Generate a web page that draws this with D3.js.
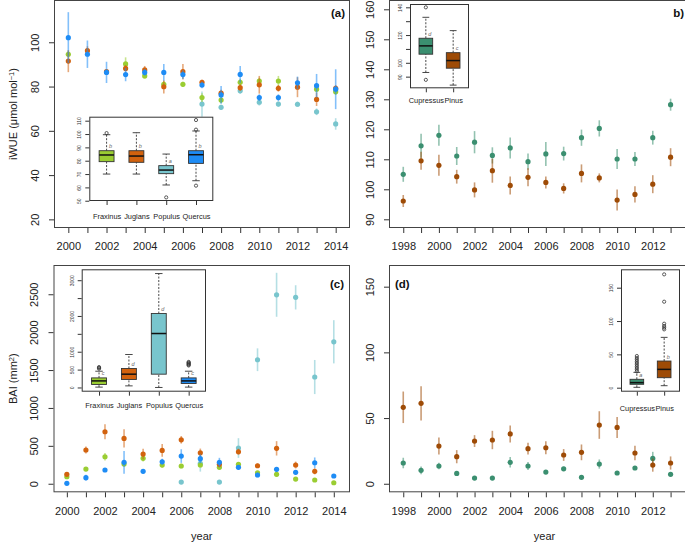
<!DOCTYPE html>
<html><head><meta charset="utf-8">
<script src="https://cdn.jsdelivr.net/npm/d3@7/dist/d3.min.js"></script>
<style>body{margin:0;background:#fff}svg{display:block;font-family:"Liberation Sans",Arial,sans-serif}</style>
</head><body><svg id="chart" width="685" height="543"></svg>
<script>
// ---------- DATA ----------
const yearsA = [2000,2001,2002,2003,2004,2005,2006,2007,2008,2009,2010,2011,2012,2013,2014];
const yearsB = [1998,1999,2000,2001,2002,2003,2004,2005,2006,2007,2008,2009,2010,2011,2012,2013];
const broadleaf = ["Fraxinus","Juglans","Populus","Quercus"];
const conifer = ["Cupressus","Pinus"];

// panel (a) iWUE
const fraxIWUE   = [94.6,null,null,90.2,84.8,81.0,81.0,75.0,73.9,81.9,82.5,82.5,null,78.8,77.7];
const fraxIWUEse = [1.5,null,null,3.0,1.2,1.5,1.2,2.0,1.5,1.5,1.5,2.3,null,1.5,1.5];
const juglIWUE   = [91.5,96.2,86.7,88.2,87.5,79.9,86.7,81.9,77.0,79.5,80.8,79.2,79.7,74.2,79.2];
const juglIWUEse = [5.0,2.0,1.0,1.5,1.8,3.0,3.5,1.2,1.5,1.5,4.0,1.5,4.5,3.0,1.5];
const popIWUE    = [null,null,null,null,null,null,55.1,72.1,70.6,78.1,72.9,72.1,72.0,68.6,63.1];
const popIWUEse  = [null,null,null,null,null,null,2.0,5.7,1.2,1.5,1.5,1.2,1.2,1.5,2.6];
const querIWUE   = [102.1,94.6,86.4,85.4,86.4,86.4,85.4,80.7,76.2,85.5,75.0,75.0,81.7,80.4,78.8];
const querIWUEse = [11.5,6.2,4.8,3.0,1.5,3.8,2.0,1.5,4.0,3.8,1.5,1.5,2.8,5.3,9.0];

// panel (b) iWUE conifers
const cupIWUE   = [105.0,114.5,118.0,111.1,115.7,111.3,113.8,109.2,111.8,111.9,117.2,120.3,110.1,110.1,117.2,128.2];
const cupIWUEse = [2.5,4.0,3.5,3.0,3.7,2.7,3.5,2.7,4.0,2.3,2.7,2.7,3.3,2.3,2.3,2.0];
const pinIWUE   = [96.1,109.5,108.0,104.2,99.8,106.2,101.3,104.0,102.3,100.3,105.3,103.8,96.4,98.3,101.7,110.7];
const pinIWUEse = [2.0,3.0,3.5,2.3,2.5,4.0,3.0,3.0,2.0,1.7,3.0,1.5,3.5,2.7,3.0,3.0];

// panel (c) BAI
const fraxBAI   = [92,194,356,260,335,247,234,247,216,256,145,124,62,49,13];
const fraxBAIse = [20,20,50,30,40,40,30,30,30,30,20,30,20,15,15];
const juglBAI   = [124,445,686,598,392,440,580,409,256,422,237,467,247,164,null];
const juglBAIse = [25,45,100,120,70,85,50,55,40,40,30,95,45,40,null];
const popBAI    = [null,null,null,null,null,null,22,270,22,471,1636,2493,2459,1408,1873];
const popBAIse  = [null,null,null,null,null,null,15,110,15,130,150,290,160,225,285];
const querBAI   = [5,80,181,282,164,290,365,330,282,216,115,190,150,277,102];
const querBAIse = [15,40,20,150,30,40,90,60,60,30,30,30,30,70,20];

// panel (d) BAI conifers
const cupBAI   = [15.8,10.2,13.5,7.9,4.3,4.3,16.3,13.5,8.9,11.4,4.9,15.0,8.2,12.0,19.3,7.2];
const cupBAIse = [4,3,2.5,1.5,1,1,4,3,1.5,1.5,1,3.5,1.5,1.5,5,1.5];
const pinBAI   = [58.2,61.2,28.7,20.6,32.5,33.3,37.9,26.7,27.4,21.9,23.9,44.7,42.9,23.4,14.2,15.8];
const pinBAIse = [12,13,6.5,5,4.5,7,6.5,4.5,5,4.5,6,10.5,8,5.5,5,5];

// inset boxplots: [lower whisker, Q1, median, Q3, upper whisker]
const boxIWUEbroad = [[70,79.3,84.3,87.5,99.5],[70,78.8,83.5,87.5,101],[61.8,70.3,73,76.3,85],[65,78,84.5,87.5,102.3]];
const outIWUEbroad = [[100.7],[],[52.5],[110.5,103.3,61.3]];
const letIWUEbroad = ["b","b","a","b"];
const boxIWUEcon = [[93,106.2,112.2,117.7,132.8],[83.9,96.1,101.6,107.3,123.2]];
const outIWUEcon = [[140,87.7],[]];
const letIWUEcon = ["d","c"];
const boxBAIbroad = [[10,84,184,268,455],[45,224,372,531,922],[0,372,1509,2068,3186],[10,112,184,268,455]];
const outBAIbroad = [[525,550,570],[],[],[615,635,655,675,695,715]];
const letBAIbroad = ["c","d","d","c"];
const boxBAIcon = [[0.6,5.1,7.6,12.6,23],[3,15,27.5,40,75.5]];
const outBAIcon = [[24.5,27,29.5,32,34.5,37,39.5,42,44.5,47.5],[87.5,90,92.5,96,129,170]];
const letBAIcon = ["a","b"];

const ticksA = [20,40,60,80,100];
const ticksB = [90,100,110,120,130,140,150,160];
const ticksC = [0,500,1000,1500,2000,2500];
const ticksD = [0,50,100,150];

// ---------- STYLE ----------
const col = {Fraxinus:"#9acd32", Juglans:"#d2620e", Populus:"#78c5cd", Quercus:"#1e8cf5", Cupressus:"#3b8f70", Pinus:"#9e4b06"};
const svg = d3.select("#chart");
const FS = 11;

function panel(p){
  const x = d3.scaleLinear().domain(p.xDom).range([p.left,p.right]);
  const y = d3.scaleLinear().domain(p.yDom).range([p.bottom,p.top]);
  const g = svg.append("g");
  // x axis
  const xa = g.append("g").attr("transform",`translate(0,${p.bottom})`)
    .call(d3.axisBottom(x).tickValues(p.years).tickSize(5).tickPadding(9.5)
      .tickFormat(d => (d % 2 === 0) ? String(d) : ""));
  xa.select(".domain").remove();
  xa.selectAll("line").attr("stroke","#333");
  xa.selectAll("text").attr("font-size",FS).attr("fill","#222").attr("font-family","Liberation Sans, Arial");
  // y axis
  const ya = g.append("g").attr("transform",`translate(${p.left},0)`)
    .call(d3.axisLeft(y).tickValues(p.yTicks).tickSize(5).tickFormat(d3.format("d")));
  ya.select(".domain").remove();
  ya.selectAll("line").attr("stroke","#333");
  ya.selectAll("text").attr("x",null).attr("dy",null).attr("text-anchor","middle")
    .attr("transform","translate(-15.5,0) rotate(-90)")
    .attr("font-size",FS).attr("fill","#222").attr("font-family","Liberation Sans, Arial");
  // box
  g.append("rect").attr("x",p.left+0.5).attr("y",p.top+0.5).attr("width",p.right-p.left-1).attr("height",p.bottom-p.top-1)
    .attr("fill","none").attr("stroke","#444").attr("stroke-width",1);
  // label
  g.append("text").attr("x",p.labX).attr("y",p.labY).attr("text-anchor",p.labAnchor)
    .attr("font-weight","bold").attr("font-size",11.5).attr("fill","#111").text(p.label);
  // y title
  if(p.yTitle){
    const t = g.append("text").attr("transform",`translate(17,${(p.top+p.bottom)/2}) rotate(-90)`)
      .attr("text-anchor","middle").attr("font-size",FS).attr("fill","#222");
    t.append("tspan").text(p.yTitle[0]);
    t.append("tspan").attr("dy",-3.5).attr("font-size",7.5).text(p.yTitle[1]);
    t.append("tspan").attr("dy",3.5).text(p.yTitle[2]);
  }
  if(p.xTitle){
    g.append("text").attr("x",(p.left+p.right)/2).attr("y",540).attr("text-anchor","middle")
      .attr("font-size",FS).attr("fill","#222").text(p.xTitle);
  }
  // inset
  inset(p.inset);
  // series
  p.series.forEach(s => {
    const pts = p.years.map((yr,i)=>({yr, v:s.v[i], e:s.e[i]})).filter(d=>d.v!=null);
    const sg = g.append("g");
    sg.selectAll("line").data(pts.filter(d=>d.e!=null)).join("line")
      .attr("x1",d=>x(d.yr)).attr("x2",d=>x(d.yr))
      .attr("y1",d=>y(d.v-d.e)).attr("y2",d=>y(d.v+d.e))
      .attr("stroke",col[s.name]).attr("stroke-opacity",0.55).attr("stroke-width",1.6);
    sg.selectAll("circle").data(pts).join("circle")
      .attr("cx",d=>x(d.yr)).attr("cy",d=>y(d.v)).attr("r",2.6).attr("fill",col[s.name]);
  });
}

function inset(q){
  const n = q.cats.length;
  const x = d3.scaleLinear().domain([0.42,n+0.58]).range([q.left,q.right]);
  const y = d3.scaleLinear().domain(q.yDom).range([q.bottom,q.top]);
  const g = svg.append("g");
  g.append("rect").attr("x",q.left+0.5).attr("y",q.top+0.5).attr("width",q.right-q.left-1).attr("height",q.bottom-q.top-1)
    .attr("fill","#fff").attr("stroke","#333").attr("stroke-width",1);
  // y ticks
  const ya = g.append("g").attr("transform",`translate(${q.left},0)`)
    .call(d3.axisLeft(y).tickValues(q.yTicks).tickSize(4).tickFormat(d => q.yLabels.includes(d) ? String(d) : ""));
  ya.select(".domain").remove();
  ya.selectAll("line").attr("stroke","#333");
  ya.selectAll("text").attr("x",null).attr("dy",null).attr("text-anchor","middle")
    .attr("transform","translate(-8,0) rotate(-90)").attr("font-size",5).attr("fill","#333")
    .attr("font-family","Liberation Sans, Arial");
  // x ticks + category labels
  const xa = g.append("g").attr("transform",`translate(0,${q.bottom})`)
    .call(d3.axisBottom(x).tickValues(d3.range(1,n+1)).tickSize(4).tickPadding(q.catPad)
      .tickFormat((d,i)=>q.cats[i]));
  xa.select(".domain").remove();
  xa.selectAll("line").attr("stroke","#333");
  xa.selectAll("text").attr("font-size",7.4).attr("fill","#222").attr("font-family","Liberation Sans, Arial");
  const bw = 0.25;
  q.stats.forEach((s,i)=>{
    const c = x(i+1), name = q.cats[i];
    const [lo,q1,med,q3,hi] = s;
    g.append("line").attr("x1",c).attr("x2",c).attr("y1",y(q3)).attr("y2",y(hi))
      .attr("stroke","#333").attr("stroke-dasharray","2,1.5").attr("stroke-width",0.9);
    g.append("line").attr("x1",c).attr("x2",c).attr("y1",y(lo)).attr("y2",y(q1))
      .attr("stroke","#333").attr("stroke-dasharray","2,1.5").attr("stroke-width",0.9);
    [lo,hi].forEach(v=>g.append("line").attr("x1",x(i+1-bw/2)).attr("x2",x(i+1+bw/2)).attr("y1",y(v)).attr("y2",y(v))
      .attr("stroke","#333").attr("stroke-width",0.9));
    g.append("rect").attr("x",x(i+1-bw)).attr("width",x(i+1+bw)-x(i+1-bw))
      .attr("y",y(q3)).attr("height",y(q1)-y(q3)).attr("fill",col[name]).attr("stroke","#333").attr("stroke-width",0.9);
    g.append("line").attr("x1",x(i+1-bw)).attr("x2",x(i+1+bw)).attr("y1",y(med)).attr("y2",y(med))
      .attr("stroke","#111").attr("stroke-width",1.5);
    g.selectAll(null).data(q.outs[i]).join("circle").attr("cx",c).attr("cy",d=>y(d)).attr("r",1.6)
      .attr("fill","none").attr("stroke","#333").attr("stroke-width",0.8);
    g.append("text").attr("x",c+4).attr("y",y(q3)-2.5).attr("text-anchor","middle").attr("font-size",5.5)
      .attr("font-style","italic").attr("fill","#666").text(q.letters[i]);
  });
}

// ---------- PANELS ----------
panel({left:54,right:350,top:0,bottom:228,xDom:[1999.25,2014.75],yDom:[16.1,119.1],years:yearsA,yTicks:ticksA,
  label:"(a)",labX:345,labY:17,labAnchor:"end",yTitle:["iWUE (μmol mol","−1",")"],
  series:[{name:"Populus",v:popIWUE,e:popIWUEse},{name:"Fraxinus",v:fraxIWUE,e:fraxIWUEse},
          {name:"Juglans",v:juglIWUE,e:juglIWUEse},{name:"Quercus",v:querIWUE,e:querIWUEse}],
  inset:{left:89.3,right:213.3,top:116.7,bottom:201,yDom:[49.8,113],yTicks:[50,60,70,80,90,100,110],
    yLabels:[50,60,70,80,90,100,110],cats:broadleaf,stats:boxIWUEbroad,outs:outIWUEbroad,letters:letIWUEbroad,catPad:9}});

panel({left:389,right:700,top:0,bottom:228,xDom:[1997.2,2014.65],yDom:[87.1,163.1],years:yearsB,yTicks:ticksB,
  label:"b)",labX:684,labY:17,labAnchor:"end",
  series:[{name:"Cupressus",v:cupIWUE,e:cupIWUEse},{name:"Pinus",v:pinIWUE,e:pinIWUEse}],
  inset:{left:410,right:469,top:4,bottom:88.3,yDom:[81.6,142.4],yTicks:[90,100,110,120,130,140],
    yLabels:[90,100,120,140],cats:conifer,stats:boxIWUEcon,outs:outIWUEcon,letters:letIWUEcon,catPad:5}});

panel({left:53.5,right:350,top:265,bottom:492.3,xDom:[1999.3,2014.85],yDom:[-113,2886],years:yearsA,yTicks:ticksC,
  label:"(c)",labX:344,labY:287.5,labAnchor:"end",yTitle:["BAI (mm","2",")"],xTitle:"year",
  series:[{name:"Populus",v:popBAI,e:popBAIse},{name:"Fraxinus",v:fraxBAI,e:fraxBAIse},
          {name:"Juglans",v:juglBAI,e:juglBAIse},{name:"Quercus",v:querBAI,e:querBAIse}],
  inset:{left:81.7,right:206,top:269.3,bottom:391.7,yDom:[-118,3305],yTicks:[0,500,1000,1500,2000,2500,3000],
    yLabels:[0,500,1000,2000,3000],cats:broadleaf,stats:boxBAIbroad,outs:outBAIbroad,letters:letBAIbroad,catPad:7}});

panel({left:389,right:700,top:265,bottom:492.3,xDom:[1997.2,2014.65],yDom:[-6.5,166.5],years:yearsB,yTicks:ticksD,
  label:"(d)",labX:395,labY:287.5,labAnchor:"start",xTitle:"year",
  series:[{name:"Cupressus",v:cupBAI,e:cupBAIse},{name:"Pinus",v:pinBAI,e:pinBAIse}],
  inset:{left:621,right:680,top:269.3,bottom:391.7,yDom:[-6,177.6],yTicks:[0,50,100,150],
    yLabels:[0,50,100,150],cats:conifer,stats:boxBAIcon,outs:outBAIcon,letters:letBAIcon,catPad:10}});
</script></body></html>
